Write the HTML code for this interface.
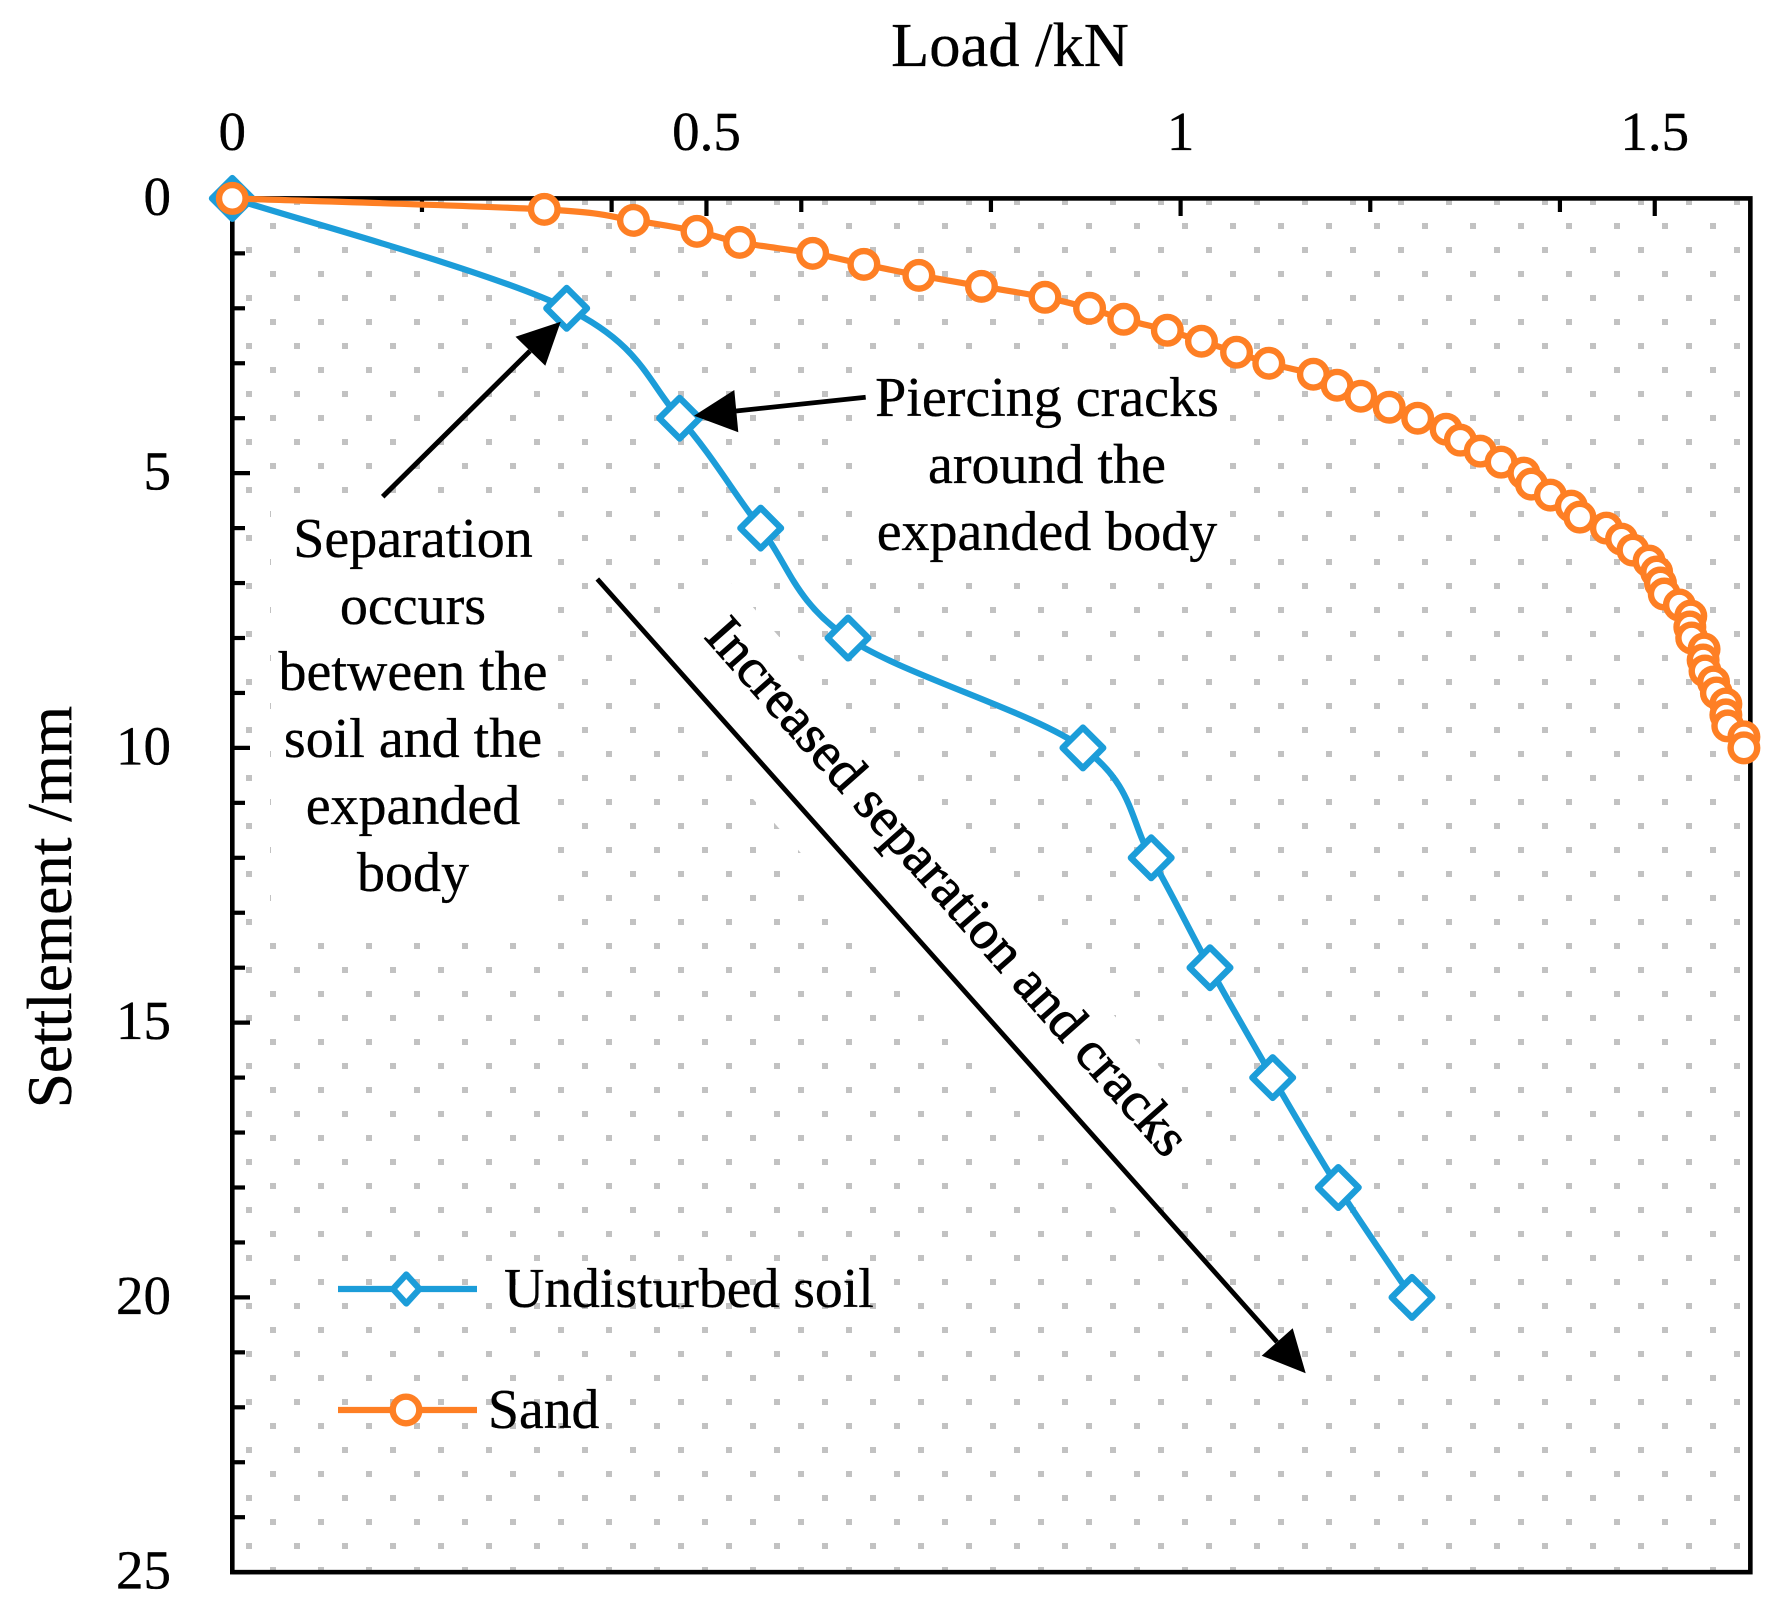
<!DOCTYPE html>
<html lang="en">
<head>
<meta charset="utf-8">
<title>Load settlement curves</title>
<style>
html,body{margin:0;padding:0;background:#fff;width:1782px;height:1615px;overflow:hidden}
svg{display:block}
text{font-family:"Liberation Serif",serif;fill:#000;stroke:#000;stroke-width:0.35px}
</style>
</head>
<body>
<svg id="chart" xmlns="http://www.w3.org/2000/svg" width="1782" height="1615" viewBox="0 0 1782 1615">
  <defs>
    <pattern id="dot-pattern" patternUnits="userSpaceOnUse" x="246" y="199" width="48" height="48">
      <rect x="0" y="0" width="6" height="6" fill="#c2c2c2"/>
      <rect x="24" y="24" width="6" height="6" fill="#c2c2c2"/>
    </pattern>
  </defs>
  <rect x="232" y="198" width="1518" height="1374" fill="url(#dot-pattern)"/>
  <rect x="271" y="500" width="281" height="435" fill="#fff"/>
  <rect x="860" y="358" width="362" height="216" fill="#fff"/>
  <rect transform="translate(705 636) rotate(48.5)" x="-30" y="-55" width="740" height="127" fill="#fff"/>

  <g id="axes"></g>
  <g id="tick-labels" font-size="55"></g>

  <text x="1010" y="66" font-size="62.5" text-anchor="middle">Load /kN</text>
  <text transform="translate(71 907) rotate(-90)" font-size="63.3" text-anchor="middle">Settlement /mm</text>

  <g id="series"></g>

  <g font-size="56" text-anchor="middle">
    <text x="413" y="557">Separation</text>
    <text x="413" y="624">occurs</text>
    <text x="413" y="690">between the</text>
    <text x="413" y="757">soil and the</text>
    <text x="413" y="824">expanded</text>
    <text x="413" y="891">body</text>
  </g>
  <g font-size="56" text-anchor="middle">
    <text x="1047" y="416">Piercing cracks</text>
    <text x="1047" y="483">around the</text>
    <text x="1047" y="550">expanded body</text>
  </g>
  <text transform="translate(703 637) rotate(48.5)" font-size="55" style="stroke-width:0.9px">Increased separation and cracks</text>

  <g>
    <line x1="382.7" y1="496.7" x2="530" y2="351" stroke="#000" stroke-width="5"/>
    <polygon points="560.7,321.7 515.5,336.7 545.3,365.7" fill="#000"/>
  </g>
  <g>
    <line x1="865.7" y1="397.3" x2="736" y2="411" stroke="#000" stroke-width="4.8"/>
    <polygon points="694,415.7 734.3,390 738.3,432.3" fill="#000"/>
  </g>
  <g>
    <line x1="597.3" y1="579" x2="1277" y2="1342" stroke="#000" stroke-width="4.8"/>
    <polygon points="1305.7,1373.3 1292.7,1328.3 1261.7,1355.7" fill="#000"/>
  </g>

  <g>
    <g>
      <line x1="338" y1="1289" x2="477" y2="1289" stroke="#1c9dd9" stroke-width="6.2"/>
      <polygon points="406.3,1274.5 419.5,1289 406.3,1303.5 393,1289" fill="#fff" stroke="#1c9dd9" stroke-width="6.2" stroke-linejoin="round"/>
      <text x="504" y="1307" font-size="55.7">Undisturbed soil</text>
    </g>
    <g>
      <line x1="338" y1="1410" x2="477" y2="1410" stroke="#fe7f24" stroke-width="6.2"/>
      <circle cx="406" cy="1410" r="13.3" fill="#fff" stroke="#fe7f24" stroke-width="6.4"/>
      <text x="488" y="1428" font-size="55.7">Sand</text>
    </g>
  </g>
</svg>
<script>
// Chart data (load in kN, settlement in mm)
var undisturbedLoad = [0, 0.3526, 0.4717, 0.5572, 0.6493, 0.897, 0.969, 1.031, 1.0971, 1.1663, 1.244];
var undisturbedSettlement = [0, 2, 4, 6, 8, 10, 12, 14, 16, 18, 20];
var sandLoad = [0, 0.329, 0.423, 0.490, 0.535, 0.612, 0.666, 0.724, 0.790, 0.857, 0.904, 0.940, 0.986, 1.022, 1.059, 1.093, 1.140, 1.165, 1.190, 1.220, 1.250, 1.280, 1.295, 1.316, 1.338, 1.362, 1.370, 1.390, 1.412, 1.421, 1.449, 1.465, 1.477, 1.494, 1.502, 1.506, 1.510, 1.526, 1.538, 1.537, 1.539, 1.552, 1.551, 1.553, 1.562, 1.565, 1.575, 1.575, 1.577, 1.594, 1.594];
var sandSettlement = [0, 0.2, 0.4, 0.6, 0.8, 1.0, 1.2, 1.4, 1.6, 1.8, 2.0, 2.2, 2.4, 2.6, 2.8, 3.0, 3.2, 3.4, 3.6, 3.8, 4.0, 4.2, 4.4, 4.6, 4.8, 5.0, 5.2, 5.4, 5.6, 5.8, 6.0, 6.2, 6.4, 6.6, 6.8, 7.0, 7.2, 7.4, 7.6, 7.8, 8.0, 8.2, 8.4, 8.6, 8.8, 9.0, 9.2, 9.4, 9.6, 9.8, 10.0];
var xMajorTicks = [0, 0.5, 1, 1.5];
var xMinorTicks = [0.2, 0.4, 0.6, 0.8, 1.2, 1.4];
var yMajorTicks = [0, 5, 10, 15, 20, 25];
var yMinorTicks = [1, 2, 3, 4, 6, 7, 8, 9, 11, 12, 13, 14, 16, 17, 18, 19, 21, 22, 23, 24];

var NS = 'http://www.w3.org/2000/svg';
var X0 = 232.3, XK = 948.3, Y0 = 198.4, YK = 54.95;
var XMAX = 1.6008, YMAX = 25;
function sx(v) { return X0 + v * XK; }
function sy(v) { return Y0 + v * YK; }

function mk(parent, tag, attrs) {
  var el = document.createElementNS(NS, tag);
  for (var k in attrs) el.setAttribute(k, attrs[k]);
  parent.appendChild(el);
  return el;
}

var axes = document.getElementById('axes');
var labels = document.getElementById('tick-labels');
var seriesG = document.getElementById('series');

var frame = mk(axes, 'rect', {x: sx(0), y: sy(0), width: sx(XMAX) - sx(0), height: sy(YMAX) - sy(0), fill: 'none', stroke: '#000', 'stroke-width': 4.6});



xMinorTicks.forEach(function (v) {
  var t = mk(axes, 'line', {x1: sx(v), x2: sx(v), y1: sy(0), y2: 212, stroke: '#000', 'stroke-width': 4.2});
  
  
});
xMajorTicks.forEach(function (v) {
  var t = mk(axes, 'line', {x1: sx(v), x2: sx(v), y1: sy(0), y2: 216, stroke: '#000', 'stroke-width': 4.2});
  
  
  var l = mk(labels, 'text', {x: sx(v), y: 150, 'text-anchor': 'middle'});
  l.textContent = String(v);
  
  
});
yMinorTicks.forEach(function (v) {
  var t = mk(axes, 'line', {x1: sx(0), x2: 245, y1: sy(v), y2: sy(v), stroke: '#000', 'stroke-width': 4.2});
  
  
});
yMajorTicks.forEach(function (v) {
  var t = mk(axes, 'line', {x1: sx(0), x2: 250, y1: sy(v), y2: sy(v), stroke: '#000', 'stroke-width': 4.2});
  
  
  var l = mk(labels, 'text', {x: 171, y: sy(v) + 16.5, 'text-anchor': 'end'});
  l.textContent = String(v);
  
  
});

function smoothPath(xs, ys) {
  var pts = xs.map(function (x, i) { return [sx(x), sy(ys[i])]; });
  var d = 'M' + pts[0][0] + ' ' + pts[0][1];
  for (var i = 0; i < pts.length - 1; i++) {
    var p0 = pts[Math.max(i - 1, 0)], p1 = pts[i], p2 = pts[i + 1], p3 = pts[Math.min(i + 2, pts.length - 1)];
    var c1x = p1[0] + (p2[0] - p0[0]) / 6, c1y = p1[1] + (p2[1] - p0[1]) / 6;
    var c2x = p2[0] - (p3[0] - p1[0]) / 6, c2y = p2[1] - (p3[1] - p1[1]) / 6;
    d += 'C' + c1x + ' ' + c1y + ' ' + c2x + ' ' + c2y + ' ' + p2[0] + ' ' + p2[1];
  }
  return d;
}

var BLUE = '#1c9dd9', ORANGE = '#fe7f24';

var blueLine = mk(seriesG, 'path', {d: smoothPath(undisturbedLoad, undisturbedSettlement), fill: 'none', stroke: BLUE, 'stroke-width': 6.2});



undisturbedLoad.forEach(function (v, i) {
  var cx = sx(v), cy = sy(undisturbedSettlement[i]), r = 20.3;
  var m = mk(seriesG, 'polygon', {
    points: cx + ',' + (cy - r) + ' ' + (cx + r) + ',' + cy + ' ' + cx + ',' + (cy + r) + ' ' + (cx - r) + ',' + cy,
    fill: '#fff', stroke: BLUE, 'stroke-width': 6.4, 'stroke-linejoin': 'round'
  });
  
  
});

var sandLine = mk(seriesG, 'path', {d: smoothPath(sandLoad, sandSettlement), fill: 'none', stroke: ORANGE, 'stroke-width': 6.2});



sandLoad.forEach(function (v, i) {
  var m = mk(seriesG, 'circle', {cx: sx(v), cy: sy(sandSettlement[i]), r: 13.3, fill: '#fff', stroke: ORANGE, 'stroke-width': 6.4});
  
  
});
</script>
</body>
</html>
